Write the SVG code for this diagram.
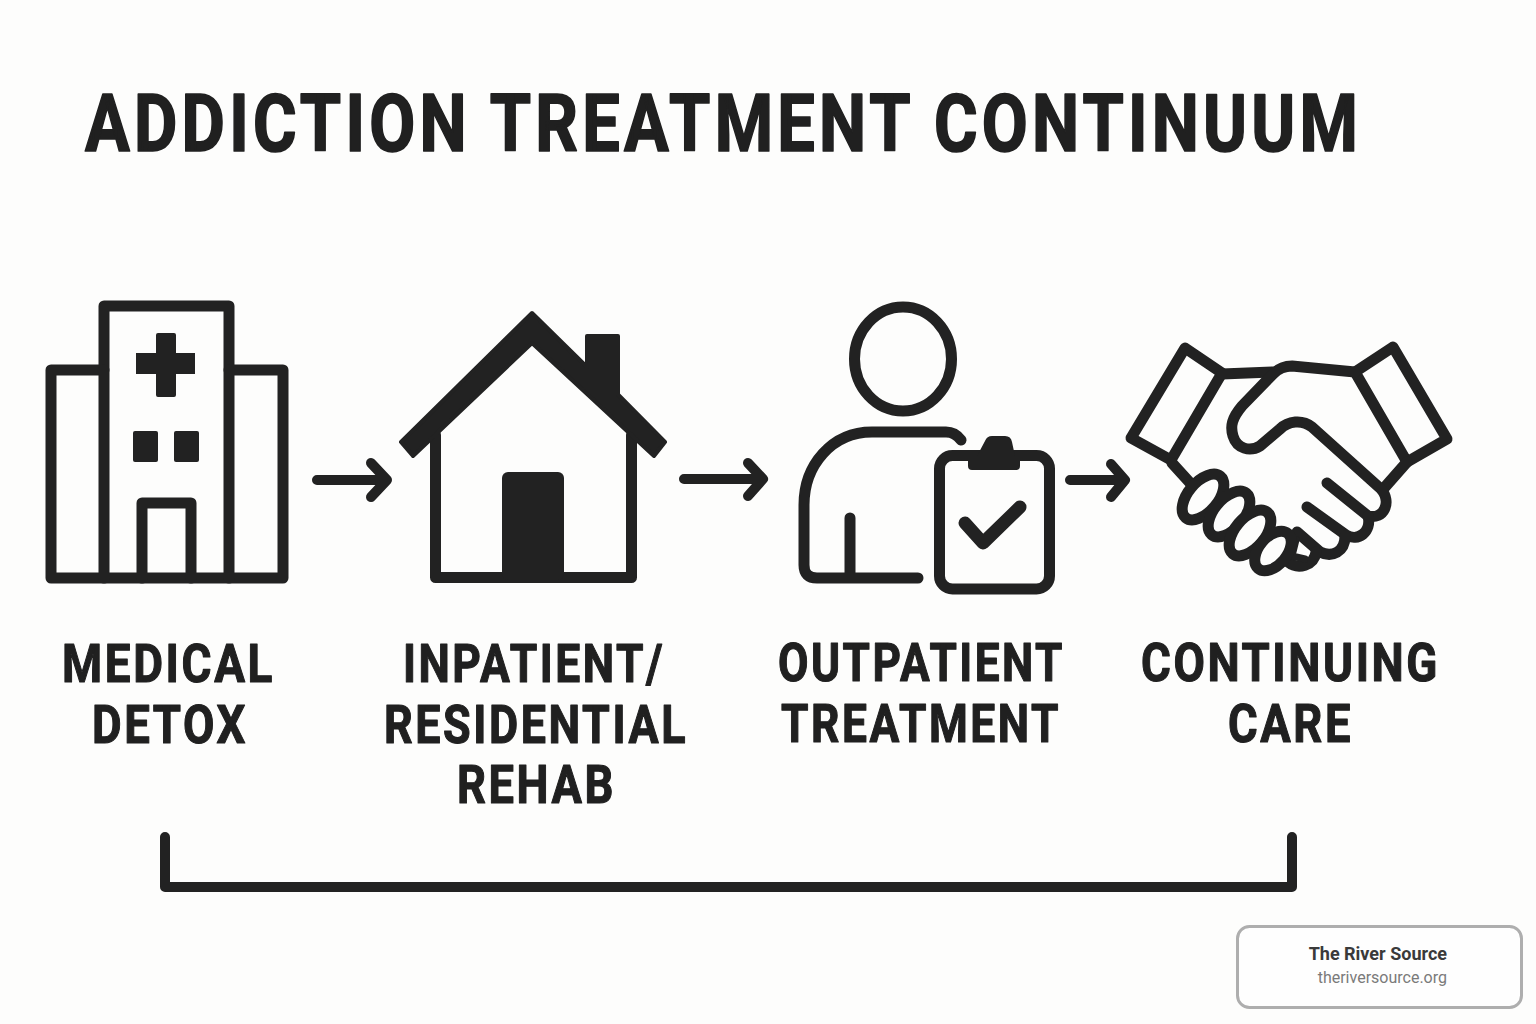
<svg xmlns="http://www.w3.org/2000/svg" width="1536" height="1024" viewBox="0 0 1536 1024">
<defs><style>
.t{font-family:"Roboto","Liberation Sans",sans-serif;font-weight:700;fill:#202020;stroke:#202020;stroke-linejoin:round}
.h{font-size:79px;stroke-width:1.700;letter-spacing:5px}
.l{font-size:53px;stroke-width:1.100;letter-spacing:3px}
.s{fill:none;stroke:#222;stroke-width:11;stroke-linecap:round;stroke-linejoin:round}
.w{fill:#fdfdfc;stroke:#222;stroke-width:11;stroke-linecap:round;stroke-linejoin:round}
.f{fill:#222}
.c{fill:none;stroke:#222;stroke-width:10;stroke-linecap:round;stroke-linejoin:round}
</style></defs>
<rect width="1536" height="1024" fill="#fdfdfc"/>
<text id="title" class="t h" transform="scale(0.9 1)" x="94.440" y="151" textLength="1419" lengthAdjust="spacingAndGlyphs">ADDICTION TREATMENT CONTINUUM</text>

<g id="node-detox">
<path class="s" d="M51 370H104V306H229V370H283V578H51Z"/>
<path class="s" d="M104 370V578M229 370V578M142 578V503H191V578"/>
<path class="f" d="M156 335a2 2 0 0 1 2-2h16a2 2 0 0 1 2 2v18h19v21h-19v21a2 2 0 0 1-2 2h-16a2 2 0 0 1-2-2v-21h-20v-21h20z"/>
<rect class="f" x="133" y="431" width="25" height="31" rx="2"/>
<rect class="f" x="174" y="431" width="25" height="31" rx="2"/>
<text class="t l" x="62" y="682" textLength="213" lengthAdjust="spacingAndGlyphs">MEDICAL</text>
<text class="t l" x="92" y="743" textLength="156" lengthAdjust="spacingAndGlyphs">DETOX</text>
</g>

<g id="node-rehab">
<path class="s" d="M435.500 435V577.500H631.500V435"/>
<path class="f" stroke="#222" stroke-width="4" stroke-linejoin="round" d="M532 313L587 367V336H618V394.500L665 442L654 456L532 343L413 456L401 442Z"/>
<rect class="f" x="502" y="472" width="62" height="108" rx="6"/>
<text class="t l" x="403" y="682" textLength="262" lengthAdjust="spacingAndGlyphs">INPATIENT/</text>
<text class="t l" x="384" y="743" textLength="304" lengthAdjust="spacingAndGlyphs">RESIDENTIAL</text>
<text class="t l" x="457" y="803" textLength="159" lengthAdjust="spacingAndGlyphs">REHAB</text>
</g>

<g id="node-outpatient">
<ellipse class="s" cx="903" cy="359" rx="48.500" ry="52"/>
<path class="s" d="M961 440Q955 432 946 432H872C832 432 804 465 804 505V565Q804 578 817 578H918M850 518V578"/>
<rect class="s" x="939.500" y="455.500" width="110" height="133.500" rx="13"/>
<path class="f" d="M968 456H977L985 441Q987 436 992 436H1005Q1011 436 1012 442L1015 456H1020V466Q1020 470 1016 470H972Q968 470 968 466Z"/>
<path class="s" style="stroke-width:13" d="M965 523L983 543L1020 507"/>
<text class="t l" x="778" y="681" textLength="287" lengthAdjust="spacingAndGlyphs">OUTPATIENT</text>
<text class="t l" x="781" y="742" textLength="280" lengthAdjust="spacingAndGlyphs">TREATMENT</text>
</g>

<g id="node-care">
<path class="s" d="M1185 348L1222 373L1171 460L1131 438Z"/>
<path class="s" d="M1393 347L1355 372L1407 462L1447 439Z"/>
<path class="s" d="M1222 374L1273 372M1172 463L1192 485M1407 462L1385 487"/>
<path class="s" d="M1355 372L1292 366Q1281 366 1273 374L1242 406C1232 418 1230 426 1233 436C1237 449 1250 452 1260 446L1280 429C1288 421 1302 419 1312 427L1381 489C1392 502 1384 520 1368 516L1327 483"/>
<path class="s" d="M1368 516C1372 532 1358 542 1346 535L1307 507"/>
<path class="s" d="M1345 536C1345 552 1332 558 1320 552L1297 532"/>
<path class="s" d="M1316 552C1314 566 1298 570 1288 562"/>
<path class="s" style="stroke-width:7" d="M1296 540L1292 556L1305 559"/>
<ellipse class="w" cx="1203" cy="497" rx="27" ry="15" transform="rotate(-50 1203 497)"/>
<ellipse class="w" cx="1229" cy="514" rx="27" ry="15" transform="rotate(-50 1229 514)"/>
<ellipse class="w" cx="1250" cy="533" rx="27" ry="15" transform="rotate(-50 1250 533)"/>
<ellipse class="w" cx="1273" cy="551" rx="23" ry="14" transform="rotate(-50 1273 551)"/>
<text class="t l" x="1141" y="681" textLength="299" lengthAdjust="spacingAndGlyphs">CONTINUING</text>
<text class="t l" x="1228" y="742" textLength="125" lengthAdjust="spacingAndGlyphs">CARE</text>
</g>

<g id="connectors">
<path class="c" d="M317 480H386M371 463L387 480L371 497"/>
<path class="c" d="M684 479H762M748 463L763 479L748 496"/>
<path class="c" d="M1070 480H1124M1111 464L1125 480L1111 497"/>
<path class="c" d="M165 837V887H1292V837"/>
</g>

<g id="badge">
<rect x="1237.500" y="926.500" width="284" height="81" rx="12" fill="#fefefe" stroke="#aeaeae" stroke-width="3"/>
<text x="1447" y="960" text-anchor="end" font-family="Roboto,sans-serif" font-weight="700" font-size="18" fill="#3a3a3a">The River Source</text>
<text x="1447" y="983" text-anchor="end" font-family="Roboto,sans-serif" font-size="16" fill="#7a7a7a">theriversource.org</text>
</g>
</svg>
